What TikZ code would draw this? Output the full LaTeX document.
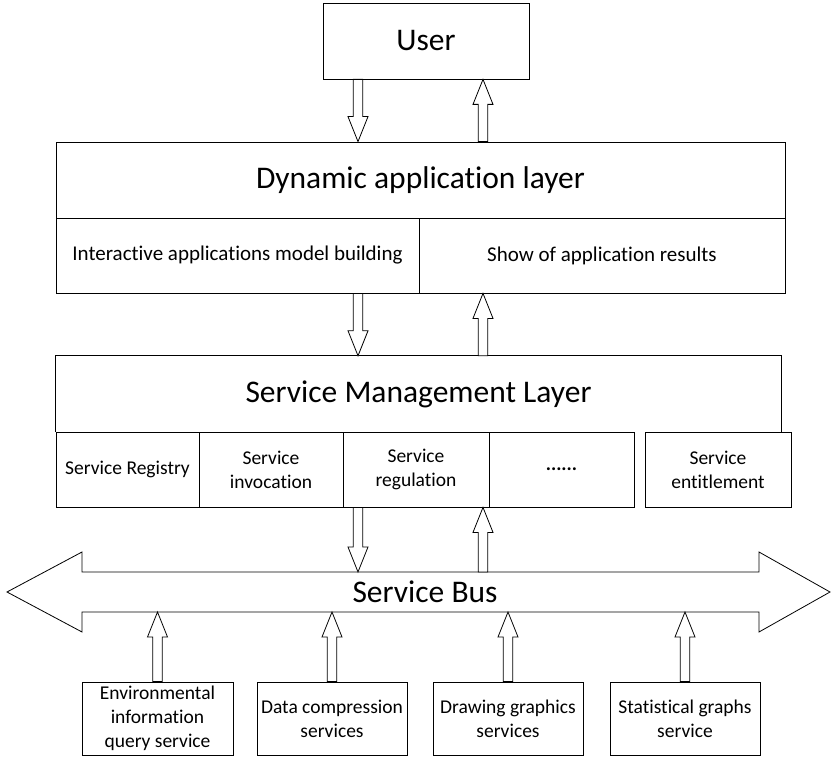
\documentclass[tikz,border=0pt]{standalone}
\usepackage{fontspec}
\setmainfont{Carlito}[Ligatures={NoCommon,NoRare}]
\usetikzlibrary{calc}
\newcommand\titlefont{\fontsize{31.5}{37}\selectfont}
\newcommand\subfont{\fontsize{21}{25}\selectfont}
\newcommand\cellfont{\fontsize{19.5}{24}\selectfont}
\tikzset{
  box/.style={draw, line width=0.8pt, inner sep=0pt, align=center, text=black},
  sized/.style 2 args={minimum width=#1pt, minimum height=#2pt},
  blk/.style={draw, line width=0.8pt, fill=white, line join=miter},
}
\newcommand\vblock[2]{%
  \draw[blk] let \p1=(#1), \p2=(#2), \n1={ifthenelse(\y2>\y1,1,-1)} in
    ({\x1-4.7pt},{\y1}) -- ({\x1-4.7pt},{\y2-(\n1*25pt)}) -- ({\x1-10pt},{\y2-(\n1*25pt)}) --
    ({\x1},{\y2}) -- ({\x1+10pt},{\y2-(\n1*25pt)}) -- ({\x1+4.7pt},{\y2-(\n1*25pt)}) --
    ({\x1+4.7pt},{\y1}) -- cycle;}
\begin{document}
\begin{tikzpicture}[x=1pt,y=-1pt]
\useasboundingbox (0,0) rectangle (831,757);
% user
\node[box, sized={206}{76}, font=\titlefont] (user) at (426,41) {User};
% dynamic application layer
\node[box, sized={729}{76}, font=\titlefont] (dyn) at (420.5,180) {Dynamic application layer};
\node[box, sized={363}{75}, font=\subfont] (dynL) at (237.5,255.5) {Interactive applications model building};
\node[box, sized={366}{75}, font=\subfont] (dynR) at (602,255.5) {Show of application results};
% service management layer
\node[inner sep=0pt, sized={725}{76}, font=\titlefont] (sml) at (418.5,394) {Service Management Layer};
\draw[line width=0.8pt] (sml.south west) -- (sml.north west) -- (sml.north east) -- (sml.south east);
\node[box, sized={143}{75}, font=\cellfont] (c1) at (127.5,469.5) {Service Registry};
\node[box, sized={144}{75}, font=\cellfont] (c2) at (271,469.5) {Service\\invocation};
\node[box, sized={146}{75}, font=\cellfont] (c3) at (416,469.5) {Service\\regulation};
\node[box, sized={145}{75}, font=\cellfont\bfseries] (c4) at (561.5,469.5) {......};
\node[box, sized={146}{75}, font=\cellfont] (ent) at (718,469.5) {Service\\entitlement};
% service bus
\draw[line width=0.8pt, line join=miter] (7,592) -- (82,552) -- (82,572) -- (759,572) -- (759,552) -- (830,592)
  -- (759,632) -- (759,612) -- (82,612) -- (82,632) -- cycle;
\node[font=\titlefont, inner sep=0pt] (bus) at (425,592) {Service Bus};
\coordinate (bustop) at (420,572);
\coordinate (busbot) at (420,612);
% services
\node[box, sized={151}{73}, font=\cellfont] (b1) at (157.5,718.5) {Environmental\\information\\query service};
\node[box, sized={150}{73}, font=\cellfont] (b2) at (332,718.5) {Data compression\\services};
\node[box, sized={150}{73}, font=\cellfont] (b3) at (508,718.5) {Drawing graphics\\services};
\node[box, sized={150}{73}, font=\cellfont] (b4) at (685,718.5) {Statistical graphs\\service};
% arrow columns
\coordinate (xa) at (358,0);
\coordinate (xb) at (483,0);
% arrows
\vblock{user.south -| xa}{dyn.north -| xa}
\vblock{dyn.north -| xb}{user.south -| xb}
\vblock{dynL.south -| xa}{sml.north -| xa}
\vblock{sml.north -| xb}{dynR.south -| xb}
\vblock{c3.south -| xa}{bustop -| xa}
\vblock{bustop -| xb}{c4.south -| xb}
\vblock{b1.north}{b1.north |- busbot}
\vblock{b2.north}{b2.north |- busbot}
\vblock{b3.north}{b3.north |- busbot}
\vblock{b4.north}{b4.north |- busbot}
\end{tikzpicture}
\end{document}
